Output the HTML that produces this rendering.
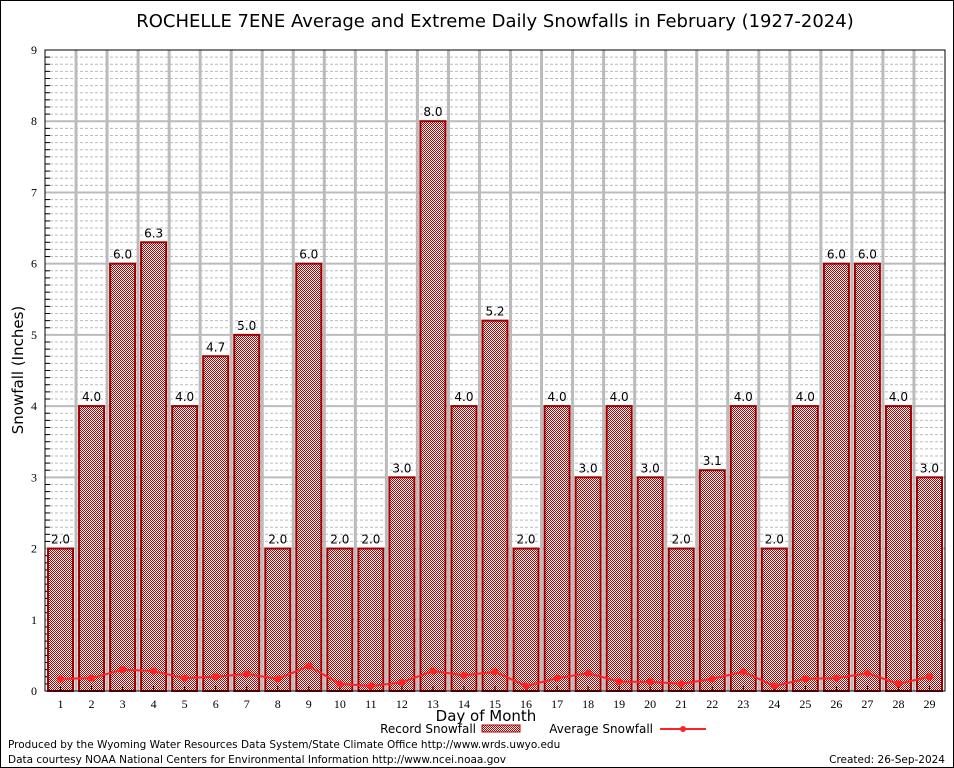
<!DOCTYPE html>
<html><head><meta charset="utf-8"><style>
html,body{margin:0;padding:0;background:#fff;}
svg{display:block;font-family:"DejaVu Sans","Liberation Sans",sans-serif;}
</style></head><body>
<svg id="s" width="954" height="768" xmlns="http://www.w3.org/2000/svg">
<defs>
<pattern id="chk" width="2" height="2" patternUnits="userSpaceOnUse">
<rect width="2" height="2" fill="#fff"/>
<rect width="1" height="1" fill="#b00000"/>
<rect x="1" y="1" width="1" height="1" fill="#b00000"/>
</pattern>
</defs>
<rect x="0.5" y="0.5" width="953" height="767" fill="none" stroke="#000"/>
<text x="495" y="27" font-size="18" text-anchor="middle" font-family="'DejaVu Sans',sans-serif">ROCHELLE 7ENE Average and Extreme Daily Snowfalls in February (1927-2024)</text>
<g id="g"></g>
<text transform="translate(23,370) rotate(-90)" font-size="15" text-anchor="middle">Snowfall (Inches)</text>
<text x="486" y="721" font-size="15" text-anchor="middle">Day of Month</text>
<text x="476" y="733" font-size="12" text-anchor="end">Record Snowfall</text>
<rect x="482" y="725" width="38" height="7" fill="url(#chk)" stroke="#b00000"/>
<text x="653" y="733" font-size="12" text-anchor="end">Average Snowfall</text>
<line x1="660" y1="729" x2="706" y2="729" stroke="#f22" stroke-width="2"/>
<circle cx="683" cy="729" r="3" fill="#f22"/>
<text x="8" y="748" font-size="10.5">Produced by the Wyoming Water Resources Data System/State Climate Office http://www.wrds.uwyo.edu</text>
<text x="8" y="763" font-size="10.5">Data courtesy NOAA National Centers for Environmental Information http://www.ncei.noaa.gov</text>
<text x="945" y="763" font-size="10.5" text-anchor="end">Created:  26-Sep-2024</text>
</svg>
<script>
var g=document.getElementById('g'),h='';
var L=45,R=945,T=50,B=691,u=(B-T)/9,w=(R-L)/29;
function y(v){return B-v*u;}
for(var i=1;i<90;i++){if(i%10)h+='<line x1="'+L+'" x2="'+R+'" y1="'+y(i/10)+'" y2="'+y(i/10)+'" stroke="#bbb" stroke-dasharray="3,2"/>';
h+='<line x1="'+L+'" x2="'+(L+5)+'" y1="'+y(i/10)+'" y2="'+y(i/10)+'" stroke="#000"/>';}
for(var i=1;i<9;i++)h+='<line x1="'+L+'" x2="'+R+'" y1="'+y(i)+'" y2="'+y(i)+'" stroke="#bbb" stroke-width="2"/>';
for(var k=1;k<29;k++){var x=L+k*w;h+='<line x1="'+x+'" x2="'+x+'" y1="'+T+'" y2="'+B+'" stroke="#bbb" stroke-width="3"/>';}
for(var i=0;i<=9;i++)h+='<text x="'+(L-8)+'" y="'+(y(i)+4)+'" font-size="12" text-anchor="end" font-family="Liberation Serif,serif">'+i+'</text>';
var rec=[2,4,6,6.3,4,4.7,5,2,6,2,2,3,8,4,5.2,2,4,3,4,3,2,3.1,4,2,4,6,6,4,3];
var av=[.17,.18,.3,.28,.18,.2,.24,.17,.35,.1,.07,.12,.28,.22,.27,.07,.18,.25,.13,.13,.1,.17,.27,.07,.17,.18,.25,.1,.2];
var pts=[];
for(var d=0;d<29;d++){var cx=L+(d+.5)*w;
h+='<rect x="'+(cx-12.5)+'" y="'+y(rec[d])+'" width="25" height="'+(rec[d]*u)+'" fill="url(#chk)" stroke="#a00000" stroke-width="2"/>';
h+='<text x="'+cx+'" y="'+(y(rec[d])-5)+'" font-size="12" text-anchor="middle">'+rec[d].toFixed(1)+'</text>';
h+='<text x="'+cx+'" y="'+(B+17)+'" font-size="12" text-anchor="middle" font-family="Liberation Serif,serif">'+(d+1)+'</text>';
h+='<line x1="'+cx+'" x2="'+cx+'" y1="'+B+'" y2="'+(B-5)+'" stroke="#000"/>';
pts.push(cx+','+y(av[d]));}
h+='<polyline points="'+pts.join(' ')+'" fill="none" stroke="#f22" stroke-width="2"/>';
pts.forEach(function(p){var a=p.split(',');h+='<circle cx="'+a[0]+'" cy="'+a[1]+'" r="3.5" fill="#f22"/>';});
h+='<rect x="'+L+'" y="'+T+'" width="'+(R-L)+'" height="'+(B-T)+'" fill="none" stroke="#000"/>';
g.innerHTML=h;
</script>
</body></html>
